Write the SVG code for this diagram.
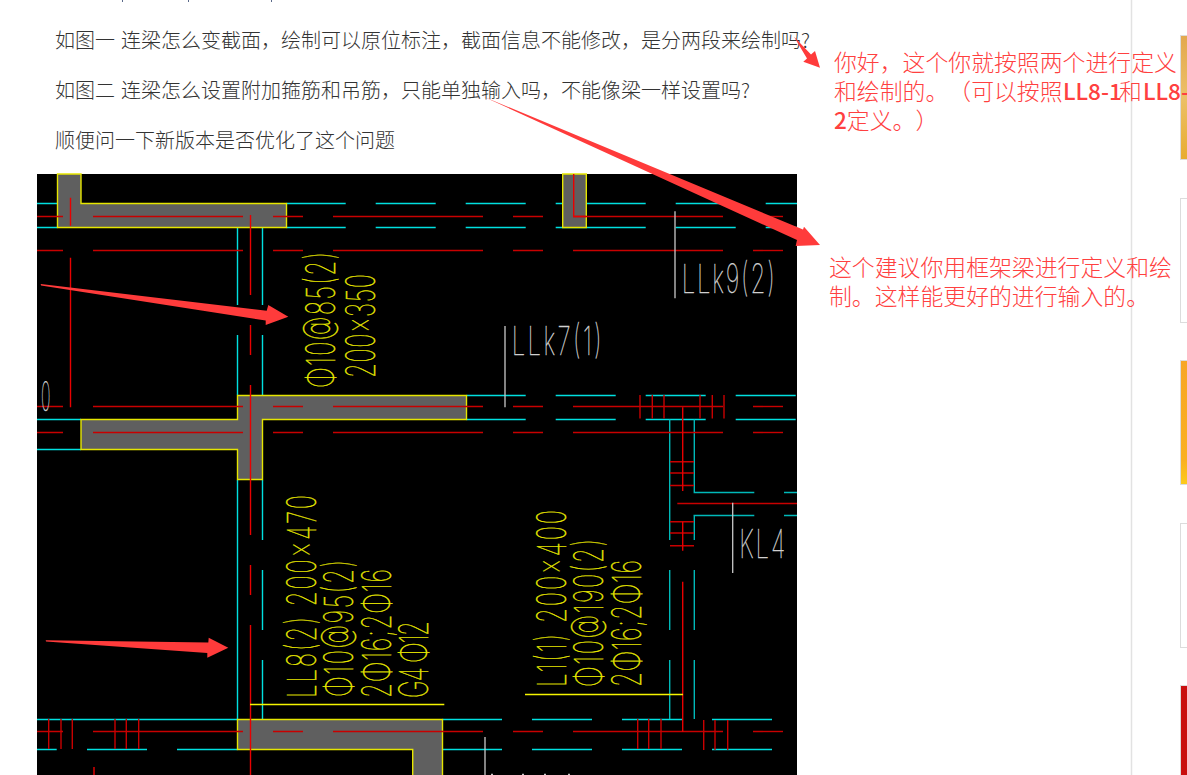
<svg xmlns="http://www.w3.org/2000/svg" width="1187" height="775" viewBox="0 0 1187 775">
<style>
.cy{stroke:#00e0e0;stroke-width:1.4;fill:none}
.cd{stroke:#00b8b8;stroke-width:1.4;fill:none}
.rd{stroke:#c80000;stroke-width:1.4;fill:none}
.rb{stroke:#e80000;stroke-width:1.4;fill:none}
.dash{stroke:#c80000;stroke-width:1.4;stroke-dasharray:150 30 30 30;stroke-dashoffset:184;fill:none}
.wall{fill:#5f5f5f;stroke:#e6e600;stroke-width:1.4}
.yl{stroke:#f4f400;stroke-width:1.4;fill:none}
.ld{stroke:#c8c8c8;stroke-width:1.3;fill:none}
.cad{font-family:"Inter","Roboto",sans-serif;font-weight:100;font-size:40px;stroke-width:.45px}
.cy-t{fill:#e8e800;stroke:#e8e800}
.wh-t{fill:#d0d0d0;stroke:#d0d0d0}
.q{font-family:"Noto Sans CJK SC",sans-serif;font-size:20px;font-weight:300;fill:#333;word-spacing:1.7px;text-spacing-trim:space-all}
.a{font-family:"Noto Sans CJK SC",sans-serif;font-size:22.87px;font-weight:300;fill:#ff4040;text-spacing-trim:space-all}
.lat{font-size:22.5px;font-weight:500}
.arrow{fill:#ff3b3b}
.card{stroke:#dcdcdc;stroke-width:1}
</style>
<defs>
<linearGradient id="g1" x1="0" y1="0" x2="0" y2="1"><stop offset="0" stop-color="#e3a84e"/><stop offset=".5" stop-color="#ecc068"/><stop offset="1" stop-color="#e8ac30"/></linearGradient>
<linearGradient id="g2" x1="0" y1="0" x2="0" y2="1"><stop offset="0" stop-color="#f7a626"/><stop offset=".8" stop-color="#fab022"/><stop offset="1" stop-color="#fccb1c"/></linearGradient>
</defs>
<rect width="1187" height="775" fill="#ffffff"/>
<g id="sidebar">
<line x1="1131.500" y1="0" x2="1131.500" y2="775" stroke="#e2e2e2" stroke-width="1.500"/>
<rect class="card" x="1180.500" y="35.500" width="10" height="124" fill="url(#g1)"/>
<rect class="card" x="1180.500" y="198.500" width="10" height="124" fill="#fff"/>
<rect class="card" x="1180.500" y="360.500" width="10" height="124" fill="url(#g2)"/>
<rect class="card" x="1180.500" y="523.500" width="10" height="124" fill="#fff"/>
<rect class="card" x="1180.500" y="685.500" width="10" height="100" fill="#c90f0f"/>
</g>
<g id="page-text">
<path d="M122.500 0V2M188.500 0V2M271.500 0V2" stroke="#5a6a8a" stroke-width="1"/>
<text class="q" x="55" y="48">如图一 连梁怎么变截面，绘制可以原位标注，截面信息不能修改，是分两段来绘制吗?</text>
<text class="q" x="55" y="98">如图二 连梁怎么设置附加箍筋和吊筋，只能单独输入吗，不能像梁一样设置吗?</text>
<text class="q" x="55" y="148">顺便问一下新版本是否优化了这个问题</text>
</g>
<g id="cad-drawing">
<rect x="37" y="174" width="760" height="601" fill="#000"/>
<g id="cad-cyan">
<path class="cy" d="M37 203.500H57.500M37 227.500H57.500M286.500 203.500H345.700M375.700 203.500H435.700M465.700 203.500H525.700M555.700 203.500H645.700M675.700 203.500H735.700M765.700 203.500H797M286.500 227.500H345.700M375.700 227.500H435.700M465.700 227.500H525.700M555.700 227.500H645.700M675.700 227.500H735.700M765.700 227.500H797"/>
<path class="cy" d="M237.500 227V305M262.500 227V305M237.500 335V395M262.500 335V395M237.500 480V719M262.500 480V540M262.500 570V630M262.500 660V719"/>
<path class="cy" d="M37 419.500H81M37 449.500H81M466.500 395.500H525.700M555.700 395.500H615.700M645.700 395.500H705.700M735.700 395.500H795.700M466.500 419.500H525.700M555.700 419.500H615.700M645.700 419.500H705.700M735.700 419.500H795.700"/>
<path class="cy" d="M37 719.500H237.500M37 749.500H56.700M87 749.500H147M177 749.500H237.500M442.500 719.500H502M532 719.500H592M622 719.500H682M712 719.500H772M442.500 749.500H502M532 749.500H592M622 749.500H682M712 749.500H772"/>
<path class="cd" d="M669.700 419.500V540M669.700 570V630M669.700 660V719M694.300 419.500V492.500H754.300M784 492.500H797M694.300 516V540M693.500 515.500H754.300M784 515.500H797M694.300 570V630M694.300 660V719"/>
</g>
<g id="cad-walls">
<path class="wall" d="M57.500 174H81V203.500H286.500V227.500H57.500Z"/>
<path class="wall" d="M562.700 174H586.300V227.500H562.700Z"/>
<path class="wall" d="M237.500 395.500H466.500V419.500H262.500V479.500H237.500V449.500H81V419.500H237.500Z"/>
<path class="wall" d="M237.500 719.500H442.500V776H412.700V749.500H237.500Z"/>
</g>
<g id="cad-red">
<line class="dash" x1="37" y1="216.500" x2="797" y2="216.500"/>
<line class="dash" x1="37" y1="250.500" x2="797" y2="250.500"/>
<line class="dash" x1="37" y1="406.500" x2="797" y2="406.500"/>
<line class="dash" x1="37" y1="432.500" x2="797" y2="432.500"/>
<line class="dash" x1="37" y1="731.500" x2="797" y2="731.500"/>
<line class="rb" x1="250.500" y1="215" x2="250.500" y2="775" stroke-dasharray="150 30 30 30" stroke-dashoffset="70"/>
<path class="rb" d="M70.500 197.700V225.700M70.500 257.700V407.300M94 767V775M573.700 174V216.500H586"/>
<path class="rd" d="M48.700 719V749M61 719V749M72.300 719V749M115 719V749M126.300 719V749M138.700 719V749M637.700 719V749M648.700 719V749M661 719V749M703.700 720V750M715 720V750M727.700 720V750"/>
<path class="rd" d="M640 395V418.500M652.300 395V418.500M664 395V418.500M700 395V418.500M712.300 395V418.500M724 395V418.500"/>
<path class="rd" d="M670 461.700H694M670 473H694M670 485.500H694M670 521.700H694M670 533H694M670 545.700H694M677.300 503.500H797"/>
<path class="rb" d="M682.700 407.300V491M682.700 521.700V550.700M682.700 581.700V731.700"/>
</g>
<g id="cad-leaders">
<path class="ld" d="M675 211.300V298.300M505 326V407.300M732.700 502.700V573M485 737V775"/>
<path class="ld" d="M491 774.500H493M522 774.500H524M544 774.500H546M568 774.500H570"/>
<path class="yl" d="M250 704.500H444.300M525 694.500H683"/>
</g>
<g id="cad-labels">
<text class="cad cy-t" transform="translate(335,388) rotate(-90) scale(.6,1)" textLength="226.700">Φ10@85(2)</text>
<text class="cad cy-t" transform="translate(375,378) rotate(-90) scale(.6,1)" textLength="173.300">200x350</text>
<text class="cad cy-t" transform="translate(315.700,698) rotate(-90) scale(.6,1)" textLength="338.300">LL8(2) 200x470</text>
<text class="cad cy-t" transform="translate(353,697) rotate(-90) scale(.6,1)" textLength="228.300">Φ10@95(2)</text>
<text class="cad cy-t" transform="translate(390.500,698) rotate(-90) scale(.6,1)" textLength="215">2Φ16;2Φ16</text>
<text class="cad cy-t" transform="translate(428,698) rotate(-90) scale(.6,1)" textLength="128.300">G4 Φ12</text>
<text class="cad cy-t" transform="translate(565.700,687) rotate(-90) scale(.6,1)" textLength="295">L1(1) 200x400</text>
<text class="cad cy-t" transform="translate(603,687) rotate(-90) scale(.6,1)" textLength="246.700">Φ10@190(2)</text>
<text class="cad cy-t" transform="translate(640.700,687) rotate(-90) scale(.6,1)" textLength="211.700">2Φ16;2Φ16</text>
<text class="cad wh-t" transform="translate(681.700,293) scale(.6,1)" textLength="155">LLk9(2)</text>
<text class="cad wh-t" transform="translate(511.700,355) scale(.6,1)" textLength="150">LLk7(1)</text>
<text class="cad wh-t" transform="translate(739.300,558) scale(.6,1)" textLength="76.700">KL4</text>
<text class="cad wh-t" transform="translate(41,410.700) scale(.4,1)" textLength="24">0</text>
</g>
</g>
<g id="arrows">
<path class="arrow" d="M40.700 284L266.700 310.700L268.300 305L288.300 316.700L265.700 325L265.700 320.500L41 285.500Z"/>
<path class="arrow" d="M45.700 640.300L208.300 642.500L208.700 637.700L228.300 647.700L207.300 657.700L207.300 653L46 641.500Z"/>
<path class="arrow" d="M482 96L803 229.500L804 226.700L820 245L795.700 246L797 240Z"/>
<path class="arrow" d="M794 36.700L811 54.500L815 51L820 67.700L803.300 61.700L807 58.500Z"/>
</g>
<g id="answers">
<text class="a" x="834" y="71">你好，这个你就按照两个进行定义</text>
<text class="a" x="834" y="100">和绘制的。（可以按照<tspan class="lat" x="1063">LL8-1</tspan><tspan x="1119">和</tspan><tspan class="lat" x="1143">LL8-</tspan></text>
<text class="a" x="834" y="129"><tspan class="lat">2</tspan>定义。）</text>
<text class="a" x="829" y="276">这个建议你用框架梁进行定义和绘</text>
<text class="a" x="829" y="305">制。这样能更好的进行输入的。</text>
</g>
</svg>
